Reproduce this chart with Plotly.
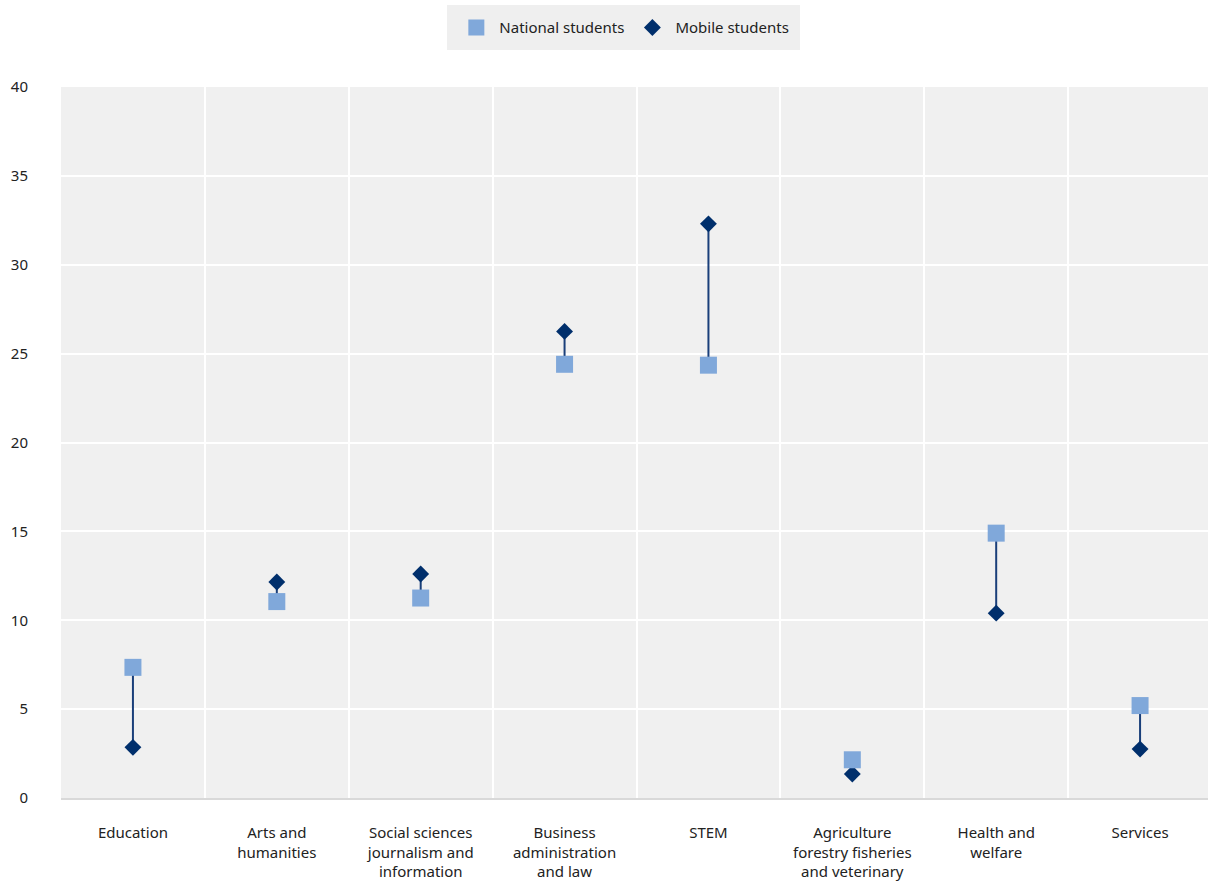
import plotly.graph_objects as go

categories = ["Education", "Arts and<br>humanities", "Social sciences<br>journalism and<br>information",
              "Business<br>administration<br>and law", "STEM", "Agriculture<br>forestry fisheries<br>and veterinary",
              "Health and<br>welfare", "Services"]
national = [7.35, 11.05, 11.25, 24.4, 24.35, 2.15, 14.9, 5.2]
mobile = [2.85, 12.15, 12.6, 26.25, 32.3, 1.35, 10.4, 2.75]
y_ticks = [0, 5, 10, 15, 20, 25, 30, 35, 40]

NAT_COLOR = "#80a8da"
MOB_COLOR = "#002f6c"
LINE_COLOR = "#1a3f7a"

seg_x, seg_y = [], []
for c, n, m in zip(categories, national, mobile):
    seg_x += [c, c, None]
    seg_y += [n, m, None]

fig = go.Figure()
fig.add_trace(go.Scatter(x=seg_x, y=seg_y, mode="lines", line=dict(color=LINE_COLOR, width=2),
                         showlegend=False, hoverinfo="skip"))
fig.add_trace(go.Scatter(x=categories, y=mobile, mode="markers", name="Mobile students",
                         marker=dict(symbol="diamond", size=13, color=MOB_COLOR)))
fig.add_trace(go.Scatter(x=categories, y=national, mode="markers", name="National students",
                         marker=dict(symbol="square", size=17, color=NAT_COLOR)))

fig.update_layout(
    width=1212, height=885,
    margin=dict(l=61, r=0, t=87, b=87),
    paper_bgcolor="white", plot_bgcolor="#f0f0f0",
    font=dict(family="Noto Sans, Open Sans, sans-serif", size=15, color="#222222"),
    legend=dict(orientation="h", x=0.489, xanchor="center", y=1.115, yanchor="top",
                bgcolor="#efefef", bordercolor="#efefef", borderwidth=6,
                traceorder="reversed", font=dict(size=15), itemwidth=36),
    xaxis=dict(type="category", tickson="boundaries", showgrid=True, gridcolor="white", gridwidth=2,
               ticks="", ticklabelstandoff=20,
               showline=True, linecolor="#d9d9d9", linewidth=2, zeroline=False,
               range=[-0.5, 7.5], fixedrange=True),
    yaxis=dict(range=[0, 40], tickvals=y_ticks, showgrid=True, gridcolor="white", gridwidth=2,
               zeroline=False, ticks="", ticklabelstandoff=32,
               showline=False),
)
fig.write_html("out.html", config={"displayModeBar": False},
               post_script="document.body.style.margin='0';document.body.style.overflow='hidden';")
